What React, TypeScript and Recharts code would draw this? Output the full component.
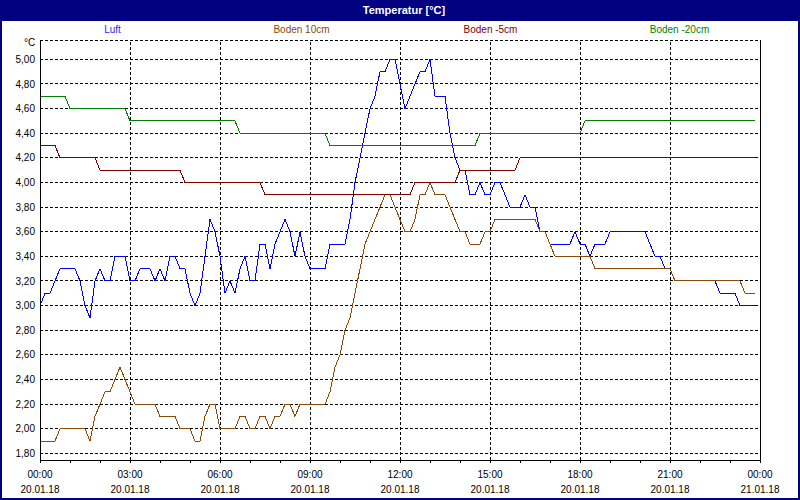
import React from "react";
import { CartesianGrid, Line, LineChart, ReferenceLine, XAxis, YAxis } from "recharts";

// 10-minute readings, 20.01.18 00:00 .. 23:50 (one row = 2 hours)
const luft = [
  3.0, 3.1, 3.1, 3.2, 3.3, 3.3, 3.3, 3.3, 3.2, 3.0, 2.9, 3.2,
  3.3, 3.2, 3.2, 3.4, 3.4, 3.4, 3.2, 3.2, 3.3, 3.3, 3.3, 3.2,
  3.3, 3.2, 3.4, 3.4, 3.3, 3.3, 3.1, 3.0, 3.1, 3.4, 3.7, 3.6,
  3.4, 3.1, 3.2, 3.1, 3.3, 3.4, 3.2, 3.2, 3.5, 3.5, 3.3, 3.5,
  3.6, 3.7, 3.6, 3.4, 3.6, 3.4, 3.3, 3.3, 3.3, 3.3, 3.5, 3.5,
  3.5, 3.5, 3.7, 4.0, 4.2, 4.4, 4.6, 4.7, 4.9, 4.9, 5.0, 5.0,
  4.8, 4.6, 4.7, 4.8, 4.9, 4.9, 5.0, 4.7, 4.7, 4.7, 4.4, 4.2,
  4.1, 4.1, 3.9, 3.9, 4.0, 3.9, 3.9, 4.0, 4.0, 3.9, 3.8, 3.8,
  3.8, 3.9, 3.8, 3.8, 3.6, 3.6, 3.5, 3.5, 3.5, 3.5, 3.5, 3.6,
  3.5, 3.5, 3.4, 3.5, 3.5, 3.5, 3.6, 3.6, 3.6, 3.6, 3.6, 3.6,
  3.6, 3.6, 3.5, 3.4, 3.4, 3.3, 3.3, 3.2, 3.2, 3.2, 3.2, 3.2,
  3.2, 3.2, 3.2, 3.2, 3.1, 3.1, 3.1, 3.1, 3.0, 3.0, 3.0, 3.0
];

const boden10 = [
  1.9, 1.9, 1.9, 1.9, 2.0, 2.0, 2.0, 2.0, 2.0, 2.0, 1.9, 2.1,
  2.2, 2.3, 2.3, 2.4, 2.5, 2.4, 2.3, 2.2, 2.2, 2.2, 2.2, 2.2,
  2.1, 2.1, 2.1, 2.1, 2.0, 2.0, 2.0, 1.9, 1.9, 2.1, 2.2, 2.2,
  2.0, 2.0, 2.0, 2.0, 2.1, 2.1, 2.0, 2.0, 2.1, 2.1, 2.0, 2.1,
  2.1, 2.2, 2.2, 2.1, 2.2, 2.2, 2.2, 2.2, 2.2, 2.2, 2.3, 2.5,
  2.6, 2.8, 2.9, 3.1, 3.3, 3.5, 3.6, 3.7, 3.8, 3.9, 3.9, 3.8,
  3.7, 3.6, 3.6, 3.7, 3.9, 3.9, 4.0, 3.9, 3.9, 3.9, 3.8, 3.7,
  3.6, 3.6, 3.5, 3.5, 3.5, 3.6, 3.6, 3.7, 3.7, 3.7, 3.7, 3.7,
  3.7, 3.7, 3.7, 3.7, 3.6, 3.6, 3.5, 3.4, 3.4, 3.4, 3.4, 3.4,
  3.4, 3.4, 3.4, 3.3, 3.3, 3.3, 3.3, 3.3, 3.3, 3.3, 3.3, 3.3,
  3.3, 3.3, 3.3, 3.3, 3.3, 3.3, 3.3, 3.2, 3.2, 3.2, 3.2, 3.2,
  3.2, 3.2, 3.2, 3.2, 3.2, 3.2, 3.2, 3.2, 3.2, 3.1, 3.1, 3.1
];

const bodenMinus5 = [
  4.3, 4.3, 4.3, 4.3, 4.2, 4.2, 4.2, 4.2, 4.2, 4.2, 4.2, 4.2,
  4.1, 4.1, 4.1, 4.1, 4.1, 4.1, 4.1, 4.1, 4.1, 4.1, 4.1, 4.1,
  4.1, 4.1, 4.1, 4.1, 4.1, 4.0, 4.0, 4.0, 4.0, 4.0, 4.0, 4.0,
  4.0, 4.0, 4.0, 4.0, 4.0, 4.0, 4.0, 4.0, 4.0, 3.9, 3.9, 3.9,
  3.9, 3.9, 3.9, 3.9, 3.9, 3.9, 3.9, 3.9, 3.9, 3.9, 3.9, 3.9,
  3.9, 3.9, 3.9, 3.9, 3.9, 3.9, 3.9, 3.9, 3.9, 3.9, 3.9, 3.9,
  3.9, 3.9, 3.9, 4.0, 4.0, 4.0, 4.0, 4.0, 4.0, 4.0, 4.0, 4.0,
  4.1, 4.1, 4.1, 4.1, 4.1, 4.1, 4.1, 4.1, 4.1, 4.1, 4.1, 4.1,
  4.2, 4.2, 4.2, 4.2, 4.2, 4.2, 4.2, 4.2, 4.2, 4.2, 4.2, 4.2,
  4.2, 4.2, 4.2, 4.2, 4.2, 4.2, 4.2, 4.2, 4.2, 4.2, 4.2, 4.2,
  4.2, 4.2, 4.2, 4.2, 4.2, 4.2, 4.2, 4.2, 4.2, 4.2, 4.2, 4.2,
  4.2, 4.2, 4.2, 4.2, 4.2, 4.2, 4.2, 4.2, 4.2, 4.2, 4.2, 4.2
];

const bodenMinus20 = [
  4.7, 4.7, 4.7, 4.7, 4.7, 4.7, 4.6, 4.6, 4.6, 4.6, 4.6, 4.6,
  4.6, 4.6, 4.6, 4.6, 4.6, 4.6, 4.5, 4.5, 4.5, 4.5, 4.5, 4.5,
  4.5, 4.5, 4.5, 4.5, 4.5, 4.5, 4.5, 4.5, 4.5, 4.5, 4.5, 4.5,
  4.5, 4.5, 4.5, 4.5, 4.4, 4.4, 4.4, 4.4, 4.4, 4.4, 4.4, 4.4,
  4.4, 4.4, 4.4, 4.4, 4.4, 4.4, 4.4, 4.4, 4.4, 4.4, 4.3, 4.3,
  4.3, 4.3, 4.3, 4.3, 4.3, 4.3, 4.3, 4.3, 4.3, 4.3, 4.3, 4.3,
  4.3, 4.3, 4.3, 4.3, 4.3, 4.3, 4.3, 4.3, 4.3, 4.3, 4.3, 4.3,
  4.3, 4.3, 4.3, 4.3, 4.4, 4.4, 4.4, 4.4, 4.4, 4.4, 4.4, 4.4,
  4.4, 4.4, 4.4, 4.4, 4.4, 4.4, 4.4, 4.4, 4.4, 4.4, 4.4, 4.4,
  4.4, 4.5, 4.5, 4.5, 4.5, 4.5, 4.5, 4.5, 4.5, 4.5, 4.5, 4.5,
  4.5, 4.5, 4.5, 4.5, 4.5, 4.5, 4.5, 4.5, 4.5, 4.5, 4.5, 4.5,
  4.5, 4.5, 4.5, 4.5, 4.5, 4.5, 4.5, 4.5, 4.5, 4.5, 4.5, 4.5
];

const yTicks = [1.8, 2.0, 2.2, 2.4, 2.6, 2.8, 3.0, 3.2, 3.4, 3.6, 3.8, 4.0, 4.2, 4.4, 4.6, 4.8, 5.0];
// minutes since 20.01.18 00:00
const hourTicks = [
  0, 60, 120, 180, 240, 300, 360, 420, 480, 540, 600, 660, 720,
  780, 840, 900, 960, 1020, 1080, 1140, 1200, 1260, 1320, 1380, 1440
];
const labelTicks = [0, 180, 360, 540, 720, 900, 1080, 1260, 1440];
const timeLabels = ["00:00", "03:00", "06:00", "09:00", "12:00", "15:00", "18:00", "21:00", "00:00"];
const dateLabels = [
  "20.01.18", "20.01.18", "20.01.18", "20.01.18", "20.01.18",
  "20.01.18", "20.01.18", "20.01.18", "21.01.18"
];
const gridTicks = [180, 360, 540, 720, 900, 1080, 1260];

const series = [
  { key: "luft", name: "Luft", color: "#0000ff", text: "#2a2aff" },
  { key: "boden10", name: "Boden 10cm", color: "#8b4a06", text: "#8b4a06" },
  { key: "bodenMinus5", name: "Boden -5cm", color: "#800000", text: "#800000" },
  { key: "bodenMinus20", name: "Boden -20cm", color: "#008000", text: "#008000" }
];

const data = luft.map((v, i) => ({
  t: i * 10,
  luft: v,
  boden10: boden10[i],
  bodenMinus5: bodenMinus5[i],
  bodenMinus20: bodenMinus20[i]
}));

const font = '"Liberation Sans", Arial, sans-serif';
const navy = "#000080";

function TimeTick(props: any) {
  const { x, y, payload } = props;
  const idx = labelTicks.indexOf(payload.value);
  if (idx < 0) return <g />;
  return (
    <g fontFamily={font} fontSize={10} fill="#000">
      <text x={x} y={y + 12.5} textAnchor="middle">{timeLabels[idx]}</text>
      <text x={x} y={y + 27.5} textAnchor="middle">{dateLabels[idx]}</text>
    </g>
  );
}

export default function App() {
  return (
    <div
      style={{
        position: "absolute",
        left: 0,
        top: 0,
        width: 800,
        height: 500,
        background: "#fff",
        fontFamily: font,
        overflow: "hidden"
      }}
    >
      <style>{".recharts-surface path, .recharts-surface line { shape-rendering: crispEdges; }"}</style>
      <LineChart width={800} height={500} data={data} margin={{ top: 40, right: 40, bottom: 0, left: 0 }}>
        <CartesianGrid vertical={false} stroke="#000" strokeDasharray="3 2" />
        {gridTicks.map((t) => (
          <ReferenceLine key={t} x={t} stroke="#000" strokeDasharray="3 2" />
        ))}
        <ReferenceLine x={1440} stroke="#000" />
        <XAxis
          dataKey="t"
          type="number"
          domain={[0, 1440]}
          ticks={hourTicks}
          interval={0}
          height={40}
          tickSize={3}
          axisLine={{ stroke: "#000" }}
          tickLine={{ stroke: "#000" }}
          tick={<TimeTick />}
        />
        <YAxis
          type="number"
          domain={[1.746, 5.157]}
          allowDataOverflow
          ticks={yTicks}
          interval={0}
          width={40}
          tickSize={3}
          tickMargin={2}
          axisLine={{ stroke: "#000" }}
          tickLine={false}
          tick={{ fontSize: 10, fill: "#000", fontFamily: font }}
          tickFormatter={(v: number) => v.toFixed(2).replace(".", ",")}
        />
        {series.map((s) => (
          <Line
            key={s.key}
            dataKey={s.key}
            name={s.name}
            type="linear"
            stroke={s.color}
            strokeWidth={1}
            dot={false}
            activeDot={false}
            isAnimationActive={false}
          />
        ))}
      </LineChart>

      <div
        style={{
          position: "absolute",
          left: 0,
          top: 0,
          width: 800,
          height: 21,
          background: navy,
          color: "#fff",
          fontWeight: "bold",
          fontSize: 11,
          lineHeight: "21px",
          textAlign: "center",
          paddingLeft: 8,
          boxSizing: "border-box"
        }}
      >
        Temperatur [°C]
      </div>

      <div
        style={{
          position: "absolute",
          left: 18,
          top: 23,
          width: 756,
          display: "grid",
          gridTemplateColumns: "repeat(4, 1fr)",
          fontSize: 10,
          lineHeight: "14px",
          textAlign: "center"
        }}
      >
        {series.map((s) => (
          <span key={s.key} style={{ color: s.text }}>
            {s.name}
          </span>
        ))}
      </div>

      <div style={{ position: "absolute", left: 24, top: 37, fontSize: 10, lineHeight: "12px", color: "#000" }}>°C</div>

      <div
        style={{
          position: "absolute",
          left: 0,
          top: 0,
          width: 800,
          height: 500,
          border: `2px solid ${navy}`,
          boxSizing: "border-box",
          pointerEvents: "none"
        }}
      />
    </div>
  );
}
